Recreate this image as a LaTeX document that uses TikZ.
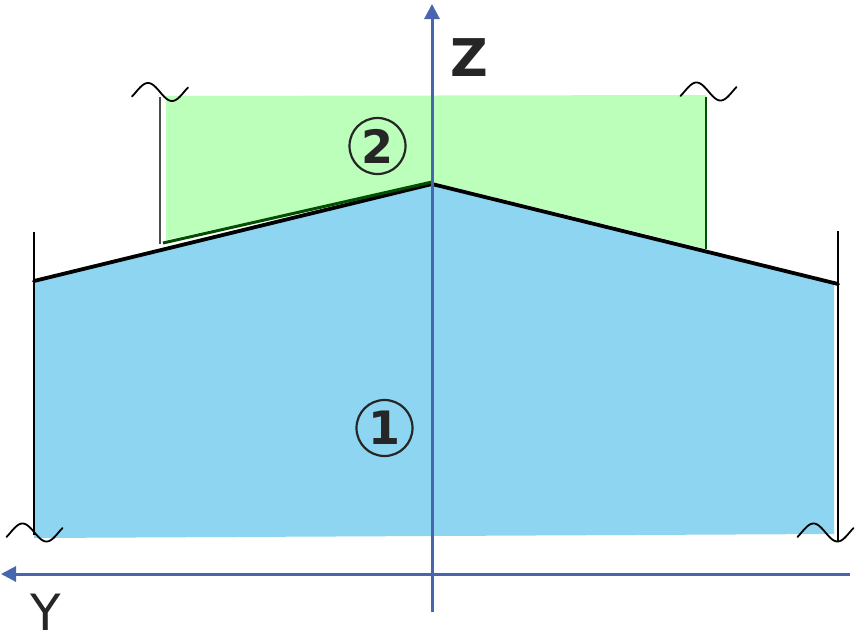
\documentclass[tikz,border=0pt]{standalone}
\usepackage{fontspec}
\setmainfont{DejaVu Sans}
\usetikzlibrary{arrows.meta}
\definecolor{bluefill}{RGB}{141,213,240}
\definecolor{greenfill}{RGB}{187,255,187}
\definecolor{axisblue}{RGB}{72,102,176}
\definecolor{darkgreen}{RGB}{0,80,0}
\definecolor{txt}{RGB}{38,38,38}
\tikzset{
  axis/.style={draw=axisblue, line width=3pt, -{Triangle[width=15pt,length=15pt]}},
  edgeline/.style={draw=black, line width=1.6pt},
  slope/.style={draw=black, line width=3.8pt, line cap=round},
  wave/.style={draw=black, line width=1.8pt, line cap=round},
  circled/.style={circle, draw=txt, line width=2.2pt, minimum size=56pt, inner sep=0pt, text=txt, font=\fontsize{46}{46}\selectfont\bfseries},
  axislabel/.style={text=txt, inner sep=0pt},
}
\newcommand{\breakwave}[2]{\draw[wave] plot[domain=-28:28, samples=50, smooth] ({#1+\x},{#2-9*sin(\x*7.5+180)});}
\begin{document}
\begin{tikzpicture}[x=1pt, y=-1pt]
\useasboundingbox (0,0) rectangle (856,640);
% key points
\coordinate (BL) at (34,538);
\coordinate (BR) at (834,534);
\coordinate (RT) at (834,283);
\coordinate (apex) at (432,184);
\coordinate (LT) at (34,281);
\coordinate (GTL) at (166,96);
\coordinate (GTR) at (706,95);
\coordinate (GBR) at (706,249);
\coordinate (Gapex) at (432,182);
\coordinate (GBL) at (166,240);
% fills
\fill[bluefill] (BL) -- (LT) -- (apex) -- (RT) -- (BR) -- cycle;
\fill[greenfill] (GTL) -- (GTR) -- (GBR) -- (Gapex) -- (GBL) -- cycle;
% vertical edges
\coordinate (LVtop) at (34,232);
\coordinate (LVbot) at (34,535);
\coordinate (RVtop) at (838,231);
\coordinate (RVbot) at (838,541);
\coordinate (GLtop) at (160,97);
\coordinate (GLbot) at (160,244);
\coordinate (GRtop) at (706,97);
\draw[edgeline] (LVtop) -- (LVbot);
\draw[edgeline] (RVtop) -- (RVbot);
\draw[edgeline, draw=black!70] (GLtop) -- (GLbot);
\draw[edgeline, draw=darkgreen, line width=1.3pt] (GRtop) -- (GBR);
% slopes
\coordinate (RTend) at (838,284);
\draw[slope] (LT) -- (apex);
\draw[slope] (apex) -- (RTend);
\draw[draw=darkgreen, line width=3pt] (163,243) -- (Gapex);
% break symbols
\breakwave{160}{92}
\breakwave{708.5}{91.5}
\breakwave{34.5}{532.5}
\breakwave{825.5}{532.5}
% axes
\coordinate (Zbot) at (432,612);
\coordinate (Ztop) at (432,4);
\coordinate (Yright) at (850,574);
\coordinate (Yleft) at (1,574);
\draw[axis] (Zbot) -- (Ztop);
\draw[axis] (Yright) -- (Yleft);
\node[axislabel, font=\fontsize{52}{52}\selectfont\bfseries] (zlabel) at (469.5,58) {Z};
\node[axislabel, font=\fontsize{50}{50}\selectfont] (ylabel) at (46,612) {Y};
% region labels
\node[circled] (r2) at (377.5,146) {2};
\node[circled] (r1) at (384.5,428) {1};
\end{tikzpicture}
\end{document}
